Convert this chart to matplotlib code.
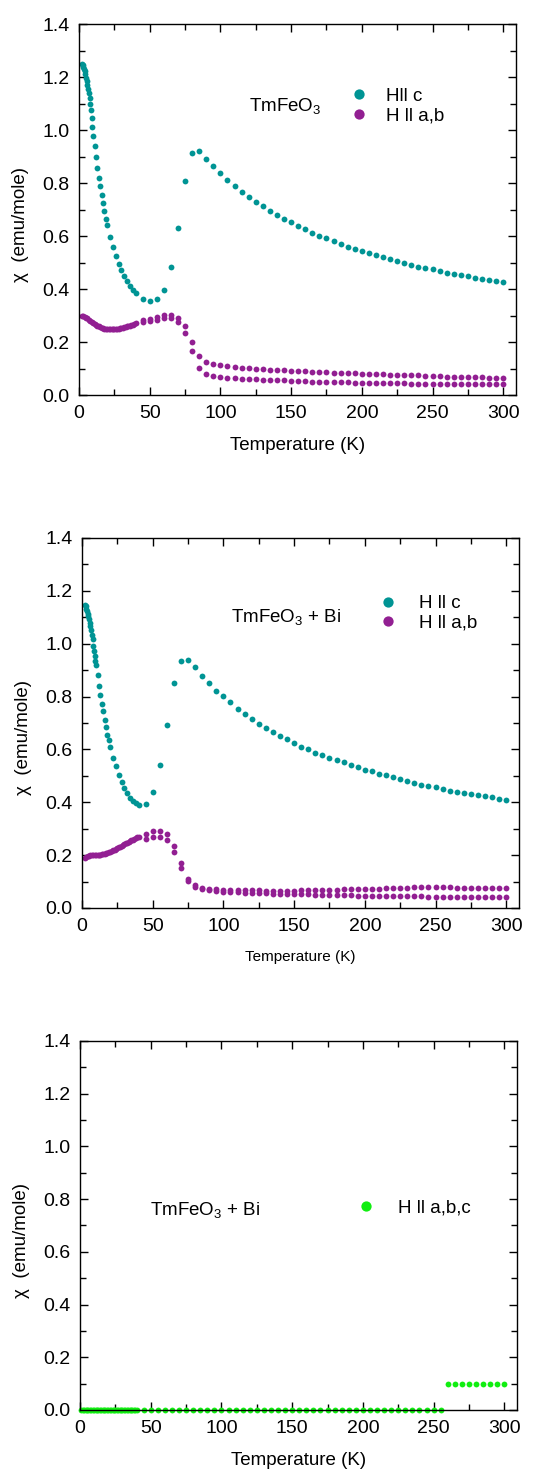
#!/usr/bin/python
# -*- coding: utf-8 -*-

"""
TmFeO3 susceptibility vs temperature, three panels
"""

import numpy as np
import matplotlib
matplotlib.use('Agg')
import matplotlib.pyplot as plt
from matplotlib.ticker import MultipleLocator

TEAL = '#009494'
PURPLE = '#921f92'
GREEN = '#11ee11'

# ---- panel 1 : TmFeO3 ----
t_dense = np.arange(2.0, 10.01, 0.5)
t_mid = [11, 12, 13, 14, 15, 16, 17, 18, 19, 20, 22, 24, 26, 28, 30, 32, 34, 36, 38, 40]
t_hi = np.arange(45, 301, 5)
t_low1k = np.arange(2, 41, 1)

p1_c_dense = [1.250, 1.245, 1.238, 1.231, 1.222, 1.211, 1.198, 1.186, 1.171,
              1.156, 1.138, 1.119, 1.099, 1.074, 1.046, 1.013, 0.977]
p1_c_mid = [0.941, 0.898, 0.858, 0.819, 0.787, 0.753, 0.723, 0.693, 0.666, 0.642,
            0.596, 0.558, 0.524, 0.495, 0.470, 0.450, 0.431, 0.412, 0.397, 0.384]
p1_c_hi = [0.364, 0.355, 0.361, 0.397, 0.482, 0.632, 0.806, 0.912, 0.919, 0.890,
           0.863, 0.838, 0.811, 0.788, 0.766, 0.747, 0.730, 0.712, 0.695, 0.680,
           0.666, 0.652, 0.637, 0.625, 0.613, 0.602, 0.591, 0.581, 0.569, 0.560,
           0.552, 0.544, 0.537, 0.528, 0.520, 0.513, 0.505, 0.499, 0.492, 0.485,
           0.480, 0.474, 0.467, 0.462, 0.457, 0.452, 0.448, 0.443, 0.438, 0.434,
           0.431, 0.426]

p1_ab_low = [0.298, 0.297, 0.295, 0.292, 0.289, 0.285, 0.281, 0.277, 0.273, 0.269,
             0.265, 0.262, 0.259, 0.256, 0.254, 0.252, 0.251, 0.250, 0.249, 0.249,
             0.248, 0.248, 0.248, 0.249, 0.249, 0.250, 0.251, 0.252, 0.253, 0.254,
             0.256, 0.257, 0.259, 0.260, 0.262, 0.264, 0.266, 0.268, 0.270]
p1_ab_up = [0.282, 0.288, 0.296, 0.301, 0.302, 0.292, 0.260, 0.200, 0.146, 0.123,
            0.116, 0.112, 0.109, 0.106, 0.103, 0.101, 0.099, 0.097, 0.095, 0.094,
            0.093, 0.092, 0.090, 0.089, 0.088, 0.087, 0.086, 0.085, 0.084, 0.083,
            0.082, 0.081, 0.080, 0.079, 0.078, 0.077, 0.076, 0.075, 0.075, 0.074,
            0.073, 0.072, 0.071, 0.070, 0.070, 0.069, 0.068, 0.067, 0.067, 0.066,
            0.065, 0.065]
p1_ab_dn = [0.275, 0.280, 0.282, 0.290, 0.290, 0.275, 0.234, 0.165, 0.102, 0.078,
            0.071, 0.068, 0.065, 0.063, 0.061, 0.060, 0.059, 0.058, 0.057, 0.056,
            0.055, 0.054, 0.053, 0.052, 0.051, 0.051, 0.050, 0.049, 0.049, 0.048,
            0.047, 0.047, 0.046, 0.046, 0.045, 0.045, 0.044, 0.044, 0.043, 0.043,
            0.043, 0.042, 0.042, 0.042, 0.041, 0.041, 0.041, 0.041, 0.040, 0.040,
            0.040, 0.040]

# ---- panel 2 : TmFeO3 + Bi ----
p2_c_dense = [1.148, 1.142, 1.133, 1.124, 1.114, 1.103, 1.092, 1.080, 1.065,
              1.050, 1.034, 1.017, 0.993, 0.972, 0.953, 0.936, 0.919]
p2_c_mid = [0.883, 0.840, 0.805, 0.772, 0.744, 0.711, 0.684, 0.656, 0.634, 0.609,
            0.569, 0.536, 0.502, 0.475, 0.454, 0.434, 0.417, 0.404, 0.396, 0.388]
p2_c_hi = [0.393, 0.439, 0.541, 0.694, 0.851, 0.933, 0.938, 0.912, 0.877, 0.851,
           0.822, 0.801, 0.778, 0.753, 0.735, 0.715, 0.697, 0.680, 0.665, 0.650,
           0.638, 0.624, 0.609, 0.602, 0.586, 0.579, 0.569, 0.559, 0.551, 0.541,
           0.532, 0.522, 0.517, 0.508, 0.502, 0.496, 0.487, 0.481, 0.473, 0.467,
           0.463, 0.459, 0.450, 0.444, 0.440, 0.436, 0.431, 0.428, 0.424, 0.419,
           0.414, 0.409]

p2_ab_low = [0.188, 0.192, 0.195, 0.198, 0.200, 0.201, 0.202, 0.202, 0.202, 0.202,
             0.202, 0.202, 0.203, 0.204, 0.205, 0.207, 0.209, 0.211, 0.213, 0.215,
             0.218, 0.220, 0.223, 0.226, 0.229, 0.232, 0.235, 0.238, 0.241, 0.244,
             0.247, 0.250, 0.253, 0.256, 0.259, 0.262, 0.265, 0.267, 0.270]
p2_ab_up = [0.281, 0.290, 0.293, 0.280, 0.234, 0.169, 0.109, 0.085, 0.076, 0.072,
            0.070, 0.069, 0.068, 0.068, 0.067, 0.067, 0.067, 0.066, 0.066, 0.066,
            0.066, 0.066, 0.067, 0.067, 0.068, 0.068, 0.069, 0.069, 0.070, 0.071,
            0.071, 0.072, 0.072, 0.073, 0.074, 0.075, 0.076, 0.077, 0.078, 0.078,
            0.078, 0.078, 0.078, 0.078, 0.077, 0.077, 0.077, 0.076, 0.075, 0.075,
            0.074, 0.074]
p2_ab_dn = [0.260, 0.268, 0.270, 0.257, 0.213, 0.151, 0.103, 0.080, 0.072, 0.068,
            0.065, 0.062, 0.060, 0.059, 0.058, 0.057, 0.056, 0.055, 0.054, 0.054,
            0.053, 0.052, 0.052, 0.051, 0.050, 0.050, 0.049, 0.049, 0.048, 0.048,
            0.047, 0.047, 0.046, 0.046, 0.045, 0.045, 0.045, 0.044, 0.044, 0.044,
            0.043, 0.043, 0.043, 0.043, 0.042, 0.042, 0.042, 0.041, 0.041, 0.041,
            0.040, 0.040]

# ---- panel 3 : TmFeO3 + Bi, all directions ----
t3_low = np.arange(1, 41, 1)
t3_mid = np.arange(45, 256, 5)
t3_hi = np.arange(260, 301, 5)
p3_low = [0.0] * len(t3_low)
p3_mid = [0.0] * len(t3_mid)
p3_hi = [0.097, 0.097, 0.097, 0.097, 0.097, 0.097, 0.097, 0.097, 0.097]

FS = 13.5
MS = 4.2


def style_axes(ax, xlabel_size=FS):
    ax.set_xlim(0, 309)
    ax.set_ylim(0, 1.4)
    ax.xaxis.set_major_locator(MultipleLocator(50))
    ax.xaxis.set_minor_locator(MultipleLocator(25))
    ax.yaxis.set_major_locator(MultipleLocator(0.2))
    ax.yaxis.set_minor_locator(MultipleLocator(0.1))
    ax.yaxis.set_major_formatter(matplotlib.ticker.FormatStrFormatter('%.1f'))
    ax.tick_params(which='both', direction='in', top=True, right=True,
                   labelsize=14, pad=7, width=1)
    ax.tick_params(which='major', length=6)
    ax.tick_params(which='minor', length=4)
    for s in ax.spines.values():
        s.set_linewidth(1)
    ax.set_xlabel('Temperature (K)', fontsize=xlabel_size, labelpad=11)
    ax.set_ylabel(u'\u03c7  (emu/mole)', fontsize=FS)


def pts(ax, x, y, color, ms=MS, label=None):
    ax.plot(x, y, 'o', color=color, ms=ms, mew=0, clip_on=False,
            label=label)


def legend(ax, x0, y0, pad, spacing):
    leg = ax.legend(loc='center left', bbox_to_anchor=(x0, y0), frameon=False,
                    fontsize=FS, handlelength=0.8, handletextpad=pad,
                    labelspacing=spacing, borderpad=0, borderaxespad=0,
                    markerscale=7.4 / MS)
    return leg


def main():
    plt.rcParams['font.family'] = ['Liberation Sans', 'DejaVu Sans']
    plt.rcParams['mathtext.fontset'] = 'custom'
    plt.rcParams['mathtext.rm'] = 'Liberation Sans'
    plt.rcParams['mathtext.it'] = 'Liberation Sans:italic'

    fig = plt.figure(figsize=(5.37, 14.73), dpi=100)
    ax1 = fig.add_axes([0.1471, 0.7318, 0.8138, 0.2519])
    ax2 = fig.add_axes([0.1527, 0.3836, 0.8138, 0.2512])
    ax3 = fig.add_axes([0.1490, 0.0428, 0.8138, 0.2505])

    # panel 1
    pts(ax1, t_dense, p1_c_dense, TEAL, label='Hll c')
    pts(ax1, t_mid, p1_c_mid, TEAL)
    pts(ax1, t_hi, p1_c_hi, TEAL)
    pts(ax1, t_low1k, p1_ab_low, PURPLE, label='H ll a,b')
    pts(ax1, t_hi, p1_ab_up, PURPLE)
    pts(ax1, t_hi, p1_ab_dn, PURPLE)
    style_axes(ax1)
    ax1.yaxis.set_label_coords(-0.115, 0.46)
    legend(ax1, 0.6236, 0.779, 1.04, 0.15)
    ax1.text(0.389, 0.779, r'TmFeO$_3$', transform=ax1.transAxes,
             fontsize=FS, va='center', ha='left')

    # panel 2
    pts(ax2, t_dense, p2_c_dense, TEAL, label='H ll c')
    pts(ax2, t_mid, p2_c_mid, TEAL)
    pts(ax2, t_hi, p2_c_hi, TEAL)
    pts(ax2, t_low1k, p2_ab_low, PURPLE, label='H ll a,b')
    pts(ax2, t_hi, p2_ab_up, PURPLE)
    pts(ax2, t_hi, p2_ab_dn, PURPLE)
    style_axes(ax2, xlabel_size=11)
    ax2.yaxis.set_label_coords(-0.115, 0.46)
    legend(ax2, 0.683, 0.796, 1.25, 0.1)
    ax2.text(0.341, 0.786, r'TmFeO$_3$ + Bi', transform=ax2.transAxes,
             fontsize=FS, va='center', ha='left')

    # panel 3
    pts(ax3, t3_low, p3_low, GREEN, label='H ll a,b,c')
    pts(ax3, t3_mid, p3_mid, GREEN)
    pts(ax3, t3_hi, p3_hi, GREEN)
    style_axes(ax3)
    ax3.yaxis.set_label_coords(-0.115, 0.46)
    legend(ax3, 0.637, 0.547, 1.31, 0.1)
    ax3.text(0.160, 0.542, r'TmFeO$_3$ + Bi', transform=ax3.transAxes,
             fontsize=FS, va='center', ha='left')

    fig.savefig('out.png', dpi=100)


if __name__ == '__main__':
    main()
